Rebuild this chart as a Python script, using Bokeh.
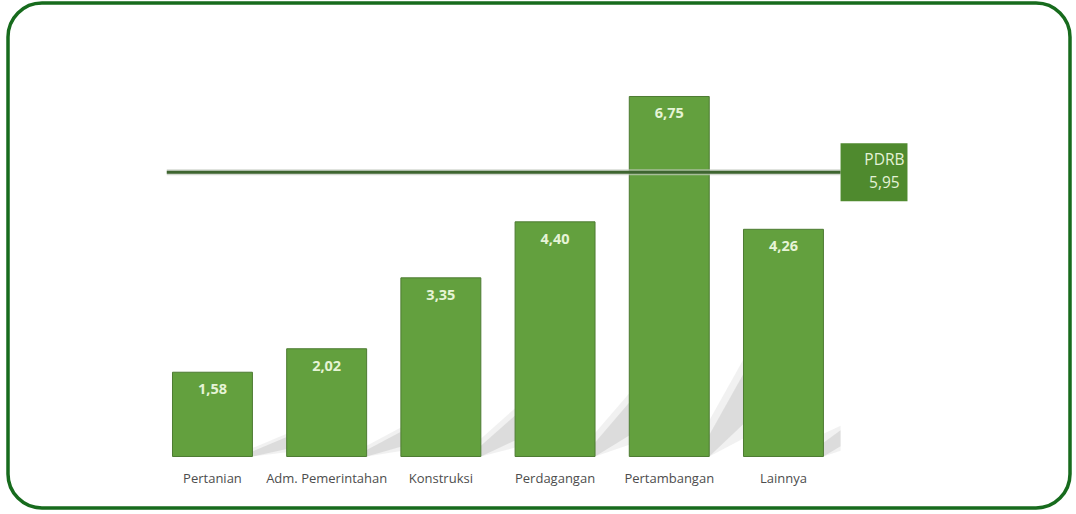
from bokeh.plotting import figure
from bokeh.models import ColumnDataSource, BoxAnnotation, Range1d
from bokeh.core.properties import value
from bokeh.embed import file_html
from bokeh.resources import INLINE

categories = ["Pertanian", "Adm. Pemerintahan", "Konstruksi", "Perdagangan", "Pertambangan", "Lainnya"]
values = [1.58, 2.02, 3.35, 4.40, 6.75, 4.26]
value_labels = ["1,58", "2,02", "3,35", "4,40", "6,75", "4,26"]
pdrb_label = "PDRB"
pdrb_value_label = "5,95"
pdrb_line_level = 5.33  # position of the reference line as drawn in the picture

W, H = 1076, 514
p = figure(width=W, height=H, output_backend="svg", toolbar_location=None,
           x_range=Range1d(-1.856, 7.566), y_range=Range1d(-1.0876, 8.55),
           min_border=0, outline_line_color=None)
p.axis.visible = False
p.grid.visible = False
p.background_fill_color = "white"
p.border_fill_color = "white"

xs = list(range(len(categories)))
src = ColumnDataSource(dict(x=xs, top=values, cat=categories, lab=value_labels,
                            lab_y=values, cat_y=[-0.394] * len(xs)))

# soft diagonal shadows to the right of each bar
half = 0.35
for i, v in enumerate(values):
    xr = i + half
    d = 0.3 if i < len(values) - 1 else 0.15
    k = d / 0.3
    p.patch([xr, xr, xr + d, xr + d], [0, 0.10 * v, 0.27 * v * k, 0.05 * v * k],
            fill_color="#8c8c8c", fill_alpha=0.12, line_color=None)
    p.patch([xr, xr, xr + d, xr + d], [0, 0.06 * v, 0.23 * v * k, 0.09 * v * k],
            fill_color="#8c8c8c", fill_alpha=0.20, line_color=None)

p.vbar(x="x", top="top", bottom=0, width=0.7, source=src,
       fill_color="#63a03e", line_color="#4d7b32", line_width=1)

# reference line
p.line([-0.40, 5.50], [pdrb_line_level, pdrb_line_level], line_color="#c4cac0", line_width=6, line_alpha=0.7)
p.line([-0.40, 5.50], [pdrb_line_level, pdrb_line_level], line_color="#3e6530", line_width=3)

# PDRB box
p.quad(left=[5.50], right=[6.086], bottom=[pdrb_line_level - 0.545], top=[pdrb_line_level + 0.545],
       fill_color="#4f8a2e", line_color=None)
p.text(x=[5.884], y=[pdrb_line_level], text=[pdrb_label], text_font=value("Open Sans"),
       text_font_size="15.5px", text_color="#e4f2d6", text_baseline="middle", text_align="center",
       y_offset=-13)
p.text(x=[5.884], y=[pdrb_line_level], text=[pdrb_value_label], text_font=value("Open Sans"),
       text_font_size="15.5px", text_color="#e4f2d6", text_baseline="middle", text_align="center",
       y_offset=10)

# value labels
p.text(x="x", y="lab_y", text="lab", source=src, text_font=value("Open Sans"),
       text_font_size="14.5px", text_font_style="bold", text_color="#e6f4d6",
       text_align="center", text_baseline="middle", y_offset=17)

# category labels
p.text(x="x", y="cat_y", text="cat", source=src, text_font=value("Open Sans"),
       text_font_size="13px", text_color="#4d4d4d",
       text_align="center", text_baseline="middle")

# rounded border
p.add_layout(BoxAnnotation(left=7.5, right=1069.5, top=6.5, bottom=511.5,
                           left_units="screen", right_units="screen",
                           top_units="screen", bottom_units="screen",
                           fill_color=None, fill_alpha=0, line_color="#176b1d", line_alpha=1.0,
                           line_width=3.5, border_radius=34))

open("out.html", "w").write(file_html(p, INLINE))
